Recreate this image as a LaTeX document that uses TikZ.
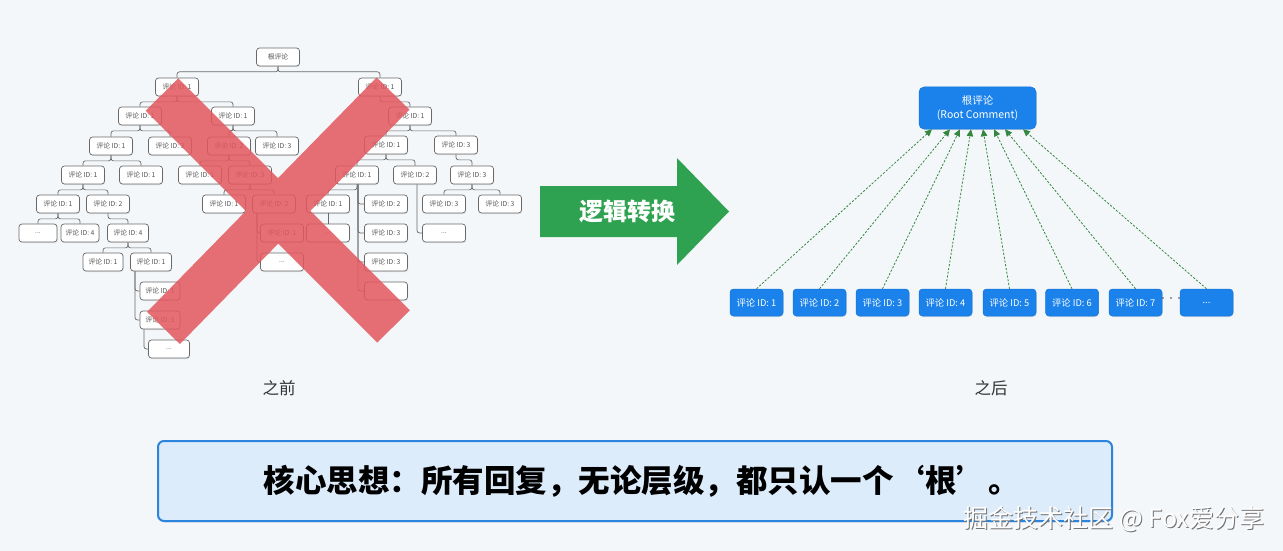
\documentclass[tikz,border=0pt]{standalone}
\usepackage{fontspec}
\setmainfont{Noto Sans CJK SC}
\usetikzlibrary{arrows.meta,shadows,calc}
\definecolor{bg}{RGB}{244,247,250}
\definecolor{tline}{RGB}{105,105,105}
\definecolor{ttext}{RGB}{85,85,85}
\definecolor{bblue}{RGB}{26,130,234}
\definecolor{bblueb}{RGB}{20,115,215}
\definecolor{garrow}{RGB}{52,135,62}
\definecolor{bigg}{RGB}{46,162,80}
\definecolor{redx}{RGB}{226,88,95}
\definecolor{corefill}{RGB}{221,236,251}
\definecolor{coreline}{RGB}{44,132,220}
\tikzset{
  tbox/.style={draw=tline, fill=white, rounded corners=3pt, line width=0.7pt,
    minimum width=43pt, minimum height=18pt, inner sep=1pt, text=ttext,
    font=\fontsize{6.8}{8}\selectfont,
    drop shadow={opacity=0.18, shadow xshift=0.6pt, shadow yshift=-1pt}},
  conn/.style={draw=tline, line width=0.7pt, rounded corners=2.5pt},
  bbox/.style={fill=bblue, draw=bblueb, line width=0.5pt, rounded corners=3.5pt,
    minimum width=53pt, minimum height=27pt, inner sep=1pt, text=white,
    font=\fontsize{9.3}{11}\selectfont,
    drop shadow={opacity=0.2, shadow xshift=0.6pt, shadow yshift=-1pt}},
  rootbox/.style={bbox, minimum width=117pt, minimum height=42pt, align=center,
    rounded corners=5pt, font=\fontsize{10.5}{14}\selectfont},
  garr/.style={draw=garrow, line width=0.8pt, dash pattern=on 2.2pt off 1.6pt,
    -{Triangle[length=7pt,width=6.5pt]}},
}
\newcommand{\mybr}[2]{\draw[conn] (#1.south) -- ++(0,5.5) -| (#2.north);}
\newcommand{\myvl}[3]{\draw[conn] ([xshift=#3]#1.south) |- (#2.west);}
\begin{document}
\begin{tikzpicture}[x=1pt,y=-1pt]
\useasboundingbox (0,0) rectangle (1283,551);
\fill[bg] (0,0) rectangle (1283,551);

% ---------- left tree ----------
\node[tbox] (r) at (278,57) {根评论};
\node[tbox] (a) at (177,87) {评论 ID: 1};
\node[tbox] (b) at (380,87) {评论 ID: 1};
\node[tbox] (a1) at (140,116) {评论 ID: 1};
\node[tbox] (a2) at (233,116) {评论 ID: 1};
\node[tbox] (b1) at (410,116) {评论 ID: 1};
\node[tbox] (a11) at (111,146) {评论 ID: 1};
\node[tbox] (a12) at (170,146) {评论 ID: 3};
\node[tbox] (a21) at (229,146) {评论 ID: 2};
\node[tbox] (a22) at (277,146) {评论 ID: 3};
\node[tbox] (b11) at (386,145) {评论 ID: 1};
\node[tbox] (b12) at (456,145) {评论 ID: 3};
\node[tbox] (a111) at (83,175) {评论 ID: 1};
\node[tbox] (a112) at (141,175) {评论 ID: 1};
\node[tbox] (a211) at (200,175) {评论 ID: 1};
\node[tbox] (a212) at (250,175) {评论 ID: 3};
\node[tbox] (b111) at (357,175) {评论 ID: 1};
\node[tbox] (b112) at (415,175) {评论 ID: 2};
\node[tbox] (b121) at (472,175) {评论 ID: 3};
\node[tbox] (a1111) at (58,204) {评论 ID: 1};
\node[tbox] (a1112) at (108,204) {评论 ID: 2};
\node[tbox] (a2121) at (224,204) {评论 ID: 1};
\node[tbox] (a2122) at (274,204) {评论 ID: 2};
\node[tbox] (b1111) at (328,204) {评论 ID: 1};
\node[tbox] (b1112) at (386,204) {评论 ID: 2};
\node[tbox] (b1211) at (444,204) {评论 ID: 3};
\node[tbox] (b1212) at (500,204) {评论 ID: 3};
\node[tbox, minimum width=38pt] (a11111) at (38,233) {...};
\node[tbox, minimum width=38pt] (a11112) at (80,233) {评论 ID: 4};
\node[tbox, minimum width=41pt] (a11121) at (128,233) {评论 ID: 4};
\node[tbox] (a21221) at (282,233) {评论 ID: 1};
\node[tbox] (b11111) at (328,233) {...};
\node[tbox] (b1113) at (386,233) {评论 ID: 3};
\node[tbox] (b1121) at (444,233) {...};
\node[tbox, minimum width=40pt] (a111211) at (103,262) {评论 ID: 1};
\node[tbox, minimum width=41pt] (a111212) at (151,262) {评论 ID: 1};
\node[tbox] (a21222) at (282,262) {...};
\node[tbox] (b1114) at (386,262) {评论 ID: 3};
\node[tbox] (b1115) at (386,291) {};
\node[tbox, minimum width=40pt] (d1) at (160,291) {评论 ID: 1};
\node[tbox, minimum width=40pt] (d2) at (160,320) {评论 ID: 3};
\node[tbox, minimum width=41pt] (d3) at (169,349) {...};

\mybr{r}{a}\mybr{r}{b}
\mybr{a}{a1}\mybr{a}{a2}
\mybr{b}{b1}
\mybr{a1}{a11}\mybr{a1}{a12}
\mybr{a2}{a21}\mybr{a2}{a22}
\mybr{b1}{b11}\mybr{b1}{b12}
\mybr{a11}{a111}\mybr{a11}{a112}
\mybr{a21}{a211}\mybr{a21}{a212}
\mybr{b11}{b111}\mybr{b11}{b112}
\mybr{b12}{b121}
\mybr{a111}{a1111}\mybr{a111}{a1112}
\mybr{a212}{a2121}\mybr{a212}{a2122}
\mybr{b111}{b1111}
\mybr{b121}{b1211}\mybr{b121}{b1212}
\mybr{a1111}{a11111}\mybr{a1111}{a11112}
\mybr{a1112}{a11121}
\mybr{a11121}{a111211}\mybr{a11121}{a111212}
\myvl{b111}{b1112}{1pt}\myvl{b111}{b1113}{1pt}\myvl{b111}{b1114}{1pt}\myvl{b111}{b1115}{1pt}
\myvl{b112}{b1121}{2pt}
\myvl{a2122}{a21221}{-17pt}\myvl{a2122}{a21222}{-17pt}
\myvl{a111212}{d1}{-16pt}\myvl{a111212}{d2}{-16pt}
\myvl{d2}{d3}{-16pt}
\draw[conn] (b1111) -- (b11111);

% red cross
\fill[redx, fill opacity=0.86]
  (178.3,78.3) -- (409.8,310.3) -- (377.2,342.7) -- (145.7,110.7) -- cycle
  (376.6,77.4) -- (409.4,109.6) -- (179.9,344.1) -- (147.1,311.9) -- cycle;

\node[text=black!80, font=\fontsize{16.5}{18}\selectfont] (before) at (279,388) {之前};

% ---------- big green arrow ----------
\fill[bigg] (540,186) -- (677,186) -- (677,158) -- (729,211.5) -- (677,265) -- (677,237) -- (540,237) -- cycle;
\node[text=white, font=\bfseries\fontsize{24}{26}\selectfont] (logic) at (627,211) {逻辑转换};

% ---------- right side ----------
\node[rootbox] (root) at (977.5,108) {根评论\\(Root Comment)};
\node[bbox] (c1) at (756.5,302.5) {评论 ID: 1};
\node[bbox] (c2) at (819.5,302.5) {评论 ID: 2};
\node[bbox] (c3) at (882.5,302.5) {评论 ID: 3};
\node[bbox] (c4) at (945.5,302.5) {评论 ID: 4};
\node[bbox] (c5) at (1009.5,302.5) {评论 ID: 5};
\node[bbox] (c6) at (1072,302.5) {评论 ID: 6};
\node[bbox] (c7) at (1135.5,302.5) {评论 ID: 7};
\node[bbox] (c8) at (1206.5,302.5) {...};
\node[text=black!70, font=\fontsize{8}{9}\selectfont] (dots) at (1171,300) {···};

\draw[garr] (c1.north) -- ([xshift=-45.5pt]root.south);
\draw[garr] (c2.north) -- ([xshift=-27.5pt]root.south);
\draw[garr] (c3.north) -- ([xshift=-17.5pt]root.south);
\draw[garr] (c4.north) -- ([xshift=-6.5pt]root.south);
\draw[garr] (c5.north) -- ([xshift=5.5pt]root.south);
\draw[garr] (c6.north) -- ([xshift=16.5pt]root.south);
\draw[garr] (c7.north) -- ([xshift=27.5pt]root.south);
\draw[garr] (c8.north) -- ([xshift=45.5pt]root.south);

\node[text=black!80, font=\fontsize{16.5}{18}\selectfont] (after) at (991,388) {之后};

% ---------- core idea box ----------
\node[draw=coreline, fill=corefill, line width=2pt, rounded corners=6pt,
  minimum width=954pt, minimum height=80pt,
  drop shadow={opacity=0.15, shadow xshift=1pt, shadow yshift=-1.5pt}] (core) at (635,481) {};
\node[font=\bfseries\fontsize{31.5}{34}\selectfont, text=black] (coretext) at (641.5,481)
  {核心思想：所有回复，无论层级，都只认一个‘根’。};

% watermark
\node[text=black!55, font=\fontsize{25}{27}\selectfont] (wmshadow) at (1115,520) {掘金技术社区 @ Fox爱分享};
\node[text=white, font=\fontsize{25}{27}\selectfont] (wm) at (1114,519) {掘金技术社区 @ Fox爱分享};
\end{tikzpicture}
\end{document}
